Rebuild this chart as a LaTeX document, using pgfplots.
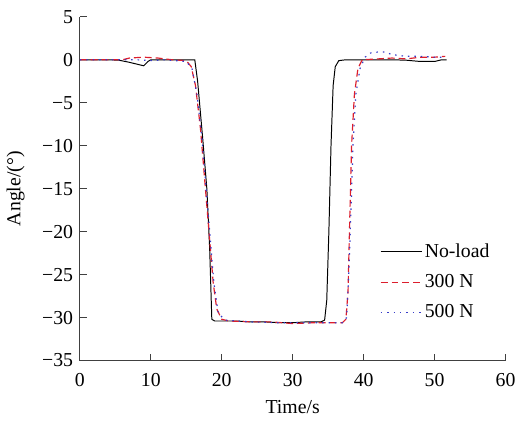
\documentclass[border=0pt]{standalone}
\usepackage{fontspec}
\setmainfont{Liberation Serif}
\usepackage{pgfplots}
\pgfplotsset{compat=1.18}
\definecolor{redline}{RGB}{220,30,45}
\definecolor{blueline}{RGB}{55,60,200}
\begin{document}
\fontsize{20bp}{23bp}\selectfont
\begin{tikzpicture}
\begin{axis}[
  scale only axis, width=431bp, height=348bp,
  clip=false,
  xmin=0, xmax=60, ymin=-35, ymax=5,
  axis x line*=bottom, axis y line*=left,
  axis line style={-, line width=0.9pt, black!75},
  tick align=inside, major tick length=7bp,
  tick style={line width=0.9pt, black!75},
  xtick={0,10,...,60},
  ytick={-35,-30,...,5},
  yticklabels={−35,−30,−25,−20,−15,−10,−5,0,5},
  /pgf/number format/assume math mode=true,
  tick label style={font=\fontsize{20bp}{23bp}\selectfont},
  xticklabel style={yshift=-6bp},
  label style={font=\fontsize{20bp}{23bp}\selectfont},
  xlabel={Time/s}, ylabel={Angle/(°)},
  every axis x label/.style={at={(rel axis cs:0.5,-0.135)}, anchor=center},
  every axis y label/.style={at={(rel axis cs:-0.151,0.5)}, rotate=90, anchor=center},
  legend style={draw=none, fill=none, at={(rel axis cs:0.698,0.353)}, anchor=north west,
    font=\fontsize{20bp}{23bp}\selectfont, row sep=10.5bp},
  legend cell align=left,
  legend image code/.code={\draw[#1] (0bp,0bp) -- (42bp,0bp);},
]
\addplot[black, line width=1.0pt] coordinates {
 (0,0) (2,0) (4,0) (5.5,-0.05) (7,-0.3) (9,-0.7) (9.6,-0.2) (10,0) (12,0) (14,0) (16.2,0)
 (16.6,-2.5) (17.3,-9) (17.9,-15) (18.3,-22) (18.6,-30.2) (19,-30.4) (20,-30.4) (22,-30.4)
 (24,-30.5) (26,-30.5) (28,-30.6) (30,-30.6) (32,-30.5) (34,-30.5) (34.5,-30.3) (34.8,-28)
 (35.1,-20) (35.4,-10) (35.7,-3) (36,-0.8) (36.5,-0.1) (37.5,0) (40,0) (44,0) (46,-0.05)
 (48,-0.2) (50,-0.2) (51,0) (51.7,0)};
\addlegendentry{No-load}
\addplot[redline, line width=1.2pt, dash pattern=on 7bp off 4bp] coordinates {
 (0,0) (4,0) (6,0) (7,0.2) (9,0.3) (11,0.2) (13,0) (15,-0.1) (15.7,-0.8) (16.3,-3) (17,-8)
 (17.7,-15) (18.3,-21) (18.8,-26) (19.3,-29) (20,-30.2) (21,-30.4) (24,-30.5) (27,-30.5)
 (30,-30.7) (33,-30.6) (36,-30.6) (37,-30.6) (37.5,-30.2) (37.8,-27) (38,-20) (38.3,-10)
 (38.7,-4) (39.2,-1) (39.8,0) (42,0.1) (44,0.2) (46,0.1) (48,0.3) (50,0.3) (51.5,0.4)};
\addlegendentry{300 N}
\addplot[blueline, line width=1.2pt, dash pattern=on 1.5bp off 5bp] coordinates {
 (0,0) (4,0) (8,0) (10,-0.1) (12,0) (15,-0.2) (15.8,-1) (16.5,-4) (17.2,-9) (17.8,-15)
 (18.4,-21) (18.9,-26) (19.5,-29.5) (20.5,-30.3) (24,-30.5) (28,-30.6) (30,-30.6) (34,-30.6)
 (37,-30.6) (37.6,-30) (37.9,-25) (38.2,-18) (38.5,-10) (38.9,-4) (39.5,-1) (40.2,0.3)
 (41,0.8) (42,0.9) (43,0.9) (44,0.6) (46,0.4) (48,0.4) (50,0.3) (51.5,0.3)};
\addlegendentry{500 N}
\path (rel axis cs:-0.1856,-0.158) rectangle (rel axis cs:1.0255,1.0489);
\end{axis}
\end{tikzpicture}
\end{document}
